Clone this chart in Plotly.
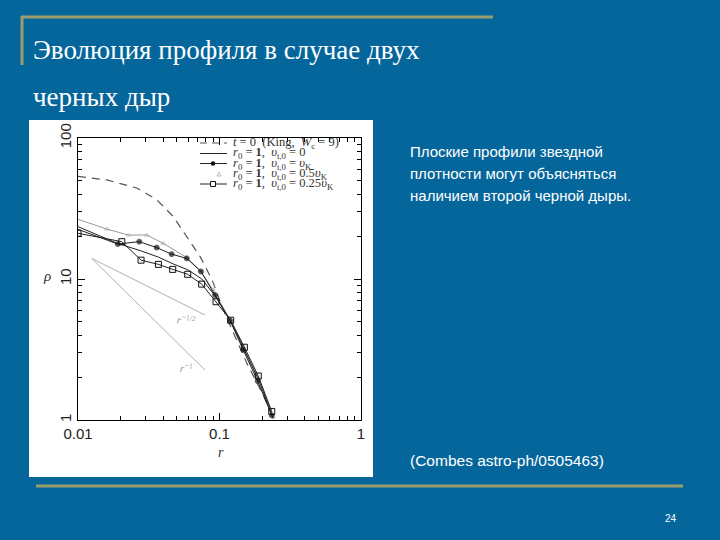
import plotly.graph_objects as go

# ---------------- data ----------------
king_r = [0.01, 0.016, 0.026, 0.036, 0.047, 0.0588, 0.073, 0.0885, 0.104, 0.126, 0.157, 0.206, 0.243]
king_rho = [53.4, 50.4, 44.2, 36.5, 27.8, 20.0, 14.4, 9.9, 6.4, 4.1, 2.5, 1.47, 1.0]

v0_r = [0.01, 0.019, 0.028, 0.037, 0.047, 0.06, 0.075, 0.094, 0.12, 0.15, 0.19, 0.24]
v0_rho = [23.5, 17.9, 15.8, 14.3, 12.8, 11.6, 10.0, 7.5, 5.0, 3.15, 1.9, 1.02]

vk_r = [0.01, 0.0191, 0.0271, 0.036, 0.0459, 0.0587, 0.074, 0.093, 0.119, 0.147, 0.186, 0.234]
vk_rho = [22.5, 17.7, 18.4, 16.7, 15.0, 14.0, 11.3, 7.7, 5.06, 3.14, 1.89, 1.08]

half_r = [0.01, 0.016, 0.0227, 0.0306, 0.04, 0.0587, 0.073, 0.09, 0.117, 0.148, 0.19, 0.24]
half_rho = [26.5, 22.6, 20.5, 20.5, 17.9, 14.2, 11.5, 8.4, 5.3, 3.3, 1.95, 1.05]

quart_r = [0.01, 0.0204, 0.0279, 0.037, 0.0467, 0.0596, 0.0748, 0.0945, 0.12, 0.15, 0.188, 0.234]
quart_rho = [21.1, 18.4, 13.6, 12.7, 11.7, 10.8, 9.2, 6.9, 5.1, 3.28, 2.05, 1.15]

guide_r = [0.0125, 0.079]
guide_half_rho = [14.0, 5.55]
guide_one_rho = [14.0, 2.26]

x_ticks = [0.01, 0.1, 1]
x_ticklabels = ["0.01", "0.1", "1"]
y_ticks = [1, 10, 100]
y_ticklabels = ["1", "10", "100"]

legend_labels = [
    "<i>t</i> = 0  (King,  <i>W</i><sub>c</sub> = 9)",
    "<i>r</i><sub>0</sub> = <b>1</b>,  <i>υ</i><sub>t,0</sub> = 0",
    "<i>r</i><sub>0</sub> = <b>1</b>,  <i>υ</i><sub>t,0</sub> = <i>υ</i><sub>K</sub>",
    "<i>r</i><sub>0</sub> = <b>1</b>,  <i>υ</i><sub>t,0</sub> = 0.5<i>υ</i><sub>K</sub>",
    "<i>r</i><sub>0</sub> = <b>1</b>,  <i>υ</i><sub>t,0</sub> = 0.25<i>υ</i><sub>K</sub>",
]

title_lines = ["Эволюция профиля в случае двух", "черных дыр"]
body_lines = ["Плоские профили звездной", "плотности могут объясняться", "наличием второй черной дыры."]
citation = "(Combes astro-ph/0505463)"
page_no = "24"

# ---------------- layout helpers ----------------
W, H = 720, 540
BG = "#05669b"
OLIVE = "#9a9d6c"
SERIF = "'Liberation Serif', 'Times New Roman', serif"
SANS = "'Liberation Sans', Arial, sans-serif"


def px(x):
    return x / W


def py(y):
    return 1 - y / H


minor_vals = [m * d for d in (0.01, 0.1) for m in range(2, 10)]
minor_y = [m * d for d in (1, 10) for m in range(2, 10)]

fig = go.Figure()

fig.add_trace(go.Scatter(x=king_r, y=king_rho, mode="lines",
                         line=dict(color="#555555", width=1.2, dash="8px,6px"),
                         showlegend=False))
fig.add_trace(go.Scatter(x=half_r, y=half_rho, mode="lines+markers",
                         line=dict(color="#999999", width=1),
                         marker=dict(symbol="triangle-up-open", size=[0] + [4] * (len(half_r) - 1),
                                     color="#999999", line=dict(width=0.8)),
                         showlegend=False))
fig.add_trace(go.Scatter(x=v0_r, y=v0_rho, mode="lines",
                         line=dict(color="#222222", width=1), showlegend=False))
fig.add_trace(go.Scatter(x=vk_r, y=vk_rho, mode="lines+markers",
                         line=dict(color="#222222", width=1),
                         marker=dict(symbol="circle", size=[0] + [5] * (len(vk_r) - 1), color="#111111"),
                         showlegend=False))
fig.add_trace(go.Scatter(x=quart_r, y=quart_rho, mode="lines+markers",
                         line=dict(color="#222222", width=1),
                         marker=dict(symbol="square-open", size=6, color="#111111", line=dict(width=1)),
                         showlegend=False))
fig.add_trace(go.Scatter(x=guide_r, y=guide_half_rho, mode="lines",
                         line=dict(color="#b0b0b0", width=1), showlegend=False))
fig.add_trace(go.Scatter(x=guide_r, y=guide_one_rho, mode="lines",
                         line=dict(color="#b0b0b0", width=1), showlegend=False))

axis_common = dict(type="log", showgrid=False, zeroline=False, showline=True,
                   linecolor="black", linewidth=1, mirror="allticks",
                   ticks="inside", ticklen=7, tickcolor="black", tickwidth=1,
                   tickmode="array", automargin=False,
                   tickfont=dict(family=SANS, size=15, color="#222222"))

fig.update_xaxes(**axis_common, range=[-2, 0], tickvals=x_ticks, ticktext=x_ticklabels,
                 domain=[px(78), px(361)],
                 minor=dict(tickmode="array", tickvals=minor_vals, ticks="inside",
                            ticklen=4, tickcolor="black"))
fig.update_yaxes(**axis_common, range=[0, 2], tickvals=y_ticks, ticktext=y_ticklabels,
                 tickangle=-90, domain=[py(420), py(138)],
                 minor=dict(tickmode="array", tickvals=minor_y, ticks="inside",
                            ticklen=4, tickcolor="black"))

shapes = [
    # white panel
    dict(type="rect", xref="paper", yref="paper", x0=px(29), x1=px(373), y0=py(477), y1=py(120),
         fillcolor="white", line=dict(width=0), layer="below"),
    # olive decoration lines
    dict(type="line", xref="paper", yref="paper", x0=px(21), x1=px(493), y0=py(17), y1=py(17),
         line=dict(color=OLIVE, width=3)),
    dict(type="line", xref="paper", yref="paper", x0=px(22), x1=px(22), y0=py(16), y1=py(65),
         line=dict(color=OLIVE, width=3)),
    dict(type="line", xref="paper", yref="paper", x0=px(36), x1=px(683), y0=py(486), y1=py(486),
         line=dict(color=OLIVE, width=3)),
]

# legend samples
leg_y = [143, 153.5, 163.5, 174, 184]
lx0, lx1, lxm = 200, 227, 213
shapes.append(dict(type="line", xref="paper", yref="paper", x0=px(lx0), x1=px(lx1),
                   y0=py(leg_y[0]), y1=py(leg_y[0]),
                   line=dict(color="#555555", width=1.2, dash="7px,5px")))
for i in (1, 2, 4):
    shapes.append(dict(type="line", xref="paper", yref="paper", x0=px(lx0), x1=px(lx1),
                       y0=py(leg_y[i]), y1=py(leg_y[i]), line=dict(color="#222222", width=1)))
shapes.append(dict(type="circle", xref="paper", yref="paper", x0=px(lxm - 2.3), x1=px(lxm + 2.3),
                   y0=py(leg_y[2] + 2.3), y1=py(leg_y[2] - 2.3), fillcolor="#111111",
                   line=dict(width=0)))
shapes.append(dict(type="rect", xref="paper", yref="paper", x0=px(lxm - 2.5), x1=px(lxm + 2.5),
                   y0=py(leg_y[4] + 2.5), y1=py(leg_y[4] - 2.5), fillcolor="white",
                   line=dict(color="#111111", width=1)))
shapes.append(dict(type="path", xref="paper", yref="paper",
                   path=f"M {px(217)} {py(leg_y[3] + 2)} L {px(221)} {py(leg_y[3] + 2)} L {px(219)} {py(leg_y[3] - 2)} Z",
                   line=dict(color="#aaaaaa", width=0.8)))

annotations = []
for lbl, y in zip(legend_labels, leg_y):
    annotations.append(dict(xref="paper", yref="paper", x=px(231), y=py(y), text=lbl,
                            showarrow=False, xanchor="left", yanchor="middle",
                            font=dict(family=SERIF, size=12.5, color="#333333")))

# axis titles
annotations.append(dict(xref="paper", yref="paper", x=px(216), y=py(462), text="<i>r</i>",
                        showarrow=False, font=dict(family=SERIF, size=14, color="#333333")))
annotations.append(dict(xref="paper", yref="paper", x=px(41), y=py(276), text="<i>ρ</i>",
                        showarrow=False, font=dict(family=SERIF, size=15, color="#333333")))

# guide labels
annotations.append(dict(x=-1.235, y=0.71, xref="x", yref="y", text="<i>r</i><sup>−1/2</sup>",
                        showarrow=False, textangle=8,
                        font=dict(family=SERIF, size=11, color="#999999")))
annotations.append(dict(x=-1.235, y=0.37, xref="x", yref="y", text="<i>r</i><sup>−1</sup>",
                        showarrow=False, textangle=8,
                        font=dict(family=SERIF, size=11, color="#999999")))

# slide texts
for txt, y in zip(title_lines, [50, 97]):
    annotations.append(dict(xref="paper", yref="paper", x=px(31), y=py(y), text=txt,
                            showarrow=False, xanchor="left", yanchor="middle",
                            font=dict(family=SERIF, size=27, color="white")))
for txt, y in zip(body_lines, [151, 173, 195]):
    annotations.append(dict(xref="paper", yref="paper", x=px(408), y=py(y), text=txt,
                            showarrow=False, xanchor="left", yanchor="middle",
                            font=dict(family=SANS, size=15, color="white")))
annotations.append(dict(xref="paper", yref="paper", x=px(408), y=py(460), text=citation,
                        showarrow=False, xanchor="left", yanchor="middle",
                        font=dict(family=SANS, size=15.5, color="white")))
annotations.append(dict(xref="paper", yref="paper", x=px(671), y=py(518), text=page_no,
                        showarrow=False, xanchor="center", yanchor="middle",
                        font=dict(family=SANS, size=10, color="white")))

fig.update_layout(width=W, height=H, margin=dict(l=0, r=0, t=0, b=0),
                  paper_bgcolor=BG, plot_bgcolor="white", template="none",
                  shapes=shapes, annotations=annotations, showlegend=False)

fig.write_html("out.html", config={"displayModeBar": False},
               post_script="document.body.style.margin='0';document.body.style.background='%s';" % BG)
